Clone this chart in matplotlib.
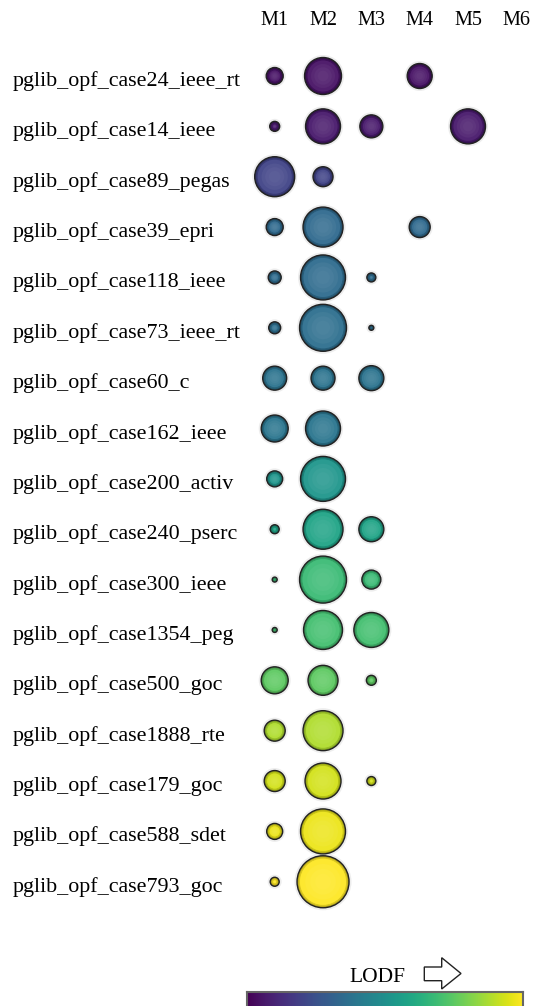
import numpy as np
import matplotlib
matplotlib.use("Agg")
import matplotlib.pyplot as plt
from matplotlib.colors import to_rgb
from matplotlib.patches import Polygon

# ---------------- data ----------------
cases = ["pglib_opf_case24_ieee_rt", "pglib_opf_case14_ieee", "pglib_opf_case89_pegas",
         "pglib_opf_case39_epri", "pglib_opf_case118_ieee", "pglib_opf_case73_ieee_rt",
         "pglib_opf_case60_c", "pglib_opf_case162_ieee", "pglib_opf_case200_activ",
         "pglib_opf_case240_pserc", "pglib_opf_case300_ieee", "pglib_opf_case1354_peg",
         "pglib_opf_case500_goc", "pglib_opf_case1888_rte", "pglib_opf_case179_goc",
         "pglib_opf_case588_sdet", "pglib_opf_case793_goc"]
methods = ["M1", "M2", "M3", "M4", "M5", "M6"]
nan = np.nan
M1 = [17, 10, 40, 17, 13, 12, 24, 27, 16, 9, 5, 5, 27, 21, 21, 16, 9]
M2 = [37, 35, 20, 40, 45, 47, 24, 35, 45, 40, 47, 39, 30, 40, 36, 45, 52]
M3 = [nan, 23, nan, nan, 9, 5, 25, nan, nan, 25, 19, 35, 10, nan, 9, nan, nan]
M4 = [25, nan, nan, 21, nan, nan, nan, nan, nan, nan, nan, nan, nan, nan, nan, nan, nan]
M5 = [nan, 35, nan, nan, nan, nan, nan, nan, nan, nan, nan, nan, nan, nan, nan, nan, nan]
M6 = [nan] * 17
lodf = [0.05, 0.07, 0.20, 0.34, 0.35, 0.36, 0.38, 0.39, 0.52, 0.58,
        0.68, 0.70, 0.75, 0.88, 0.93, 0.97, 1.00]

sizes = np.array([M1, M2, M3, M4, M5, M6], dtype=float).T  # rows x methods

# ---------------- figure ----------------
W, H, DPI = 538, 1006, 100
fig = plt.figure(figsize=(W / DPI, H / DPI), dpi=DPI)
plt.rcParams['font.family'] = ['Liberation Serif', 'DejaVu Serif']

# layout in pixels
x0, dx = 274.7, 48.33
y0, dy = 76.0, 50.36
ax = fig.add_axes([0, 0, 1, 1])
ax.set_xlim(-x0 / dx, (W - x0) / dx)
ax.set_ylim((H - y0) / dy, -y0 / dy)
ax.axis('off')

cmap = plt.get_cmap('viridis')
px2pt = 72.0 / DPI

def shade(c, f):
    """f>0 lighten toward white, f<0 darken toward black"""
    c = np.array(to_rgb(c))
    if f >= 0:
        return tuple(c + (1 - c) * f)
    return tuple(c * (1 + f))

rows, cols = np.nonzero(~np.isnan(sizes))
d = sizes[rows, cols]
fills = [cmap(lodf[r]) for r in rows]
# soft shadow halo
ax.scatter(cols, rows, s=((d + 5) * px2pt) ** 2, c='#e2e2e2', alpha=0.6,
           edgecolors='none', zorder=1)
# dark rim of fixed pixel width, then lighter centre
rim = [(0.0, -0.30), (1.5, -0.14), (3.0, -0.02)]
for k, (off, lf) in enumerate(rim):
    dd = np.clip(d - 2 * off, 0.5, None)
    ax.scatter(cols, rows, s=(dd * px2pt) ** 2,
               c=[shade(f, lf) for f in fills],
               edgecolors=('#222222' if k == 0 else 'none'),
               linewidths=(1.0 if k == 0 else 0), zorder=2 + k)
inner = [(0.80, 0.05), (0.62, 0.09), (0.45, 0.12), (0.28, 0.14)]
for k, (fr, lf) in enumerate(inner):
    dd = np.clip(d - 6, 0, None) * fr / 0.8
    ax.scatter(cols, rows, s=(dd * px2pt) ** 2,
               c=[shade(f, lf) for f in fills],
               edgecolors='none', zorder=6 + k)

# row labels
for i, name in enumerate(cases):
    ax.text(12.5 / W, i + 10 / dy, name, transform=ax.get_yaxis_transform(),
            ha='left', va='baseline', fontsize=15.8, color='black')
# column headers
for j, m in enumerate(methods):
    ax.text(j, -51 / dy, m, ha='center', va='baseline', fontsize=14.6,
            color='black')

# decorations overlay (pixel coordinates)
ov = fig.add_axes([0, 0, 1, 1], facecolor='none')
ov.set_xlim(0, W)
ov.set_ylim(H, 0)
ov.axis('off')
ov.text(377.5, 982, "LODF", ha='center', va='baseline', fontsize=15.5, color='black')
arrow = Polygon([(424.3, 967), (441.7, 967), (441.7, 957.7), (461, 973.5),
                 (441.7, 989), (441.7, 980.7), (424.3, 980.7)], closed=True,
                facecolor='white', edgecolor='#222222', linewidth=1.0)
ov.add_patch(arrow)

# colour bar (cut at the bottom edge, as in the reference)
cax = fig.add_axes([247 / W, (H - 1014) / H, (523 - 247) / W, 22 / H])
grad = np.linspace(0, 1, 256)[None, :]
cax.imshow(grad, aspect='auto', cmap=cmap, extent=[0, 1, 0, 1])
cax.set_xticks([])
cax.set_yticks([])
for sp in cax.spines.values():
    sp.set_edgecolor('#666666')
    sp.set_linewidth(1.5)

fig.savefig("out.png", dpi=DPI)
